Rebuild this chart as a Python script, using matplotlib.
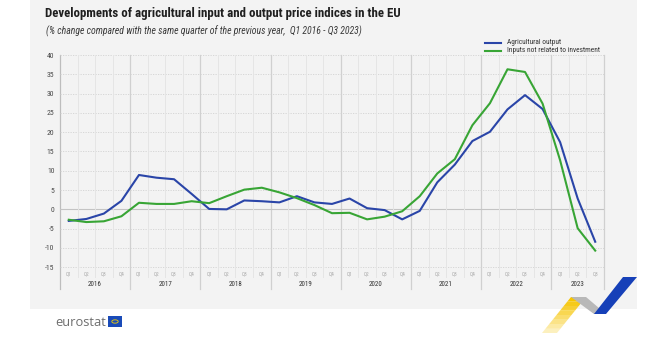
import matplotlib
matplotlib.use('Agg')
import matplotlib.pyplot as plt
from matplotlib.patches import Rectangle, Polygon, Circle
from matplotlib.lines import Line2D
from matplotlib import transforms
from matplotlib import font_manager as fm

# ---------------- data ----------------
years = ['2016', '2017', '2018', '2019', '2020', '2021', '2022', '2023']
quarters = ['Q1', 'Q2', 'Q3', 'Q4']
categories = [f'{q} {y}' for y in years for q in quarters][:31]   # Q1 2016 .. Q3 2023

agricultural_output = [
    -3.0, -2.5, -1.1, 2.2,      # 2016
    8.9, 8.2, 7.8, 4.0,         # 2017
    0.1, 0.0, 2.3, 2.1,         # 2018
    1.8, 3.4, 1.8, 1.4,         # 2019
    2.8, 0.3, -0.2, -2.6,       # 2020
    -0.4, 7.0, 11.6, 17.7,      # 2021
    20.1, 25.9, 29.6, 26.0,     # 2022
    17.4, 2.8, -8.4,            # 2023
]
inputs_not_investment = [
    -2.7, -3.3, -3.1, -1.8,     # 2016
    1.7, 1.4, 1.4, 2.1,         # 2017
    1.6, 3.4, 5.1, 5.6,         # 2018
    4.4, 2.9, 1.1, -1.0,        # 2019
    -0.9, -2.6, -1.9, -0.5,     # 2020
    3.4, 9.3, 13.0, 21.8,       # 2021
    27.5, 36.3, 35.6, 27.4,     # 2022
    12.7, -4.9, -10.7,          # 2023
]
y_ticks = [-15, -10, -5, 0, 5, 10, 15, 20, 25, 30, 35, 40]

title = 'Developments of agricultural input and output price indices in the EU'
subtitle = '(% change compared with the same quarter of the previous year,  Q1 2016 - Q3 2023)'
legend_labels = ['Agricultural output', 'Inputs not related to investment']

# ---------------- style ----------------
BLUE = '#2a45a8'
GREEN = '#38a535'
W, H = 650, 339
available = {f.name for f in fm.fontManager.ttflist}
NARROW = 'DejaVu Sans'
for cand in ['Roboto Condensed', 'Open Sans Condensed', 'Liberation Sans Narrow',
             'Noto Sans Condensed', 'DejaVu Sans Condensed']:
    if cand in available:
        NARROW = cand
        break
plt.rcParams['font.family'] = [NARROW, 'DejaVu Sans']
plt.rcParams['font.stretch'] = 'condensed'

fig = plt.figure(figsize=(W / 100, H / 100), dpi=100)
fig.patch.set_facecolor('white')
renderer = fig.canvas.get_renderer()


def fx(px):
    return px / W


def fy(py):
    return 1 - py / H


def fit_width(txt, target_px):
    w = txt.get_window_extent(renderer).width
    txt.set_fontsize(txt.get_fontsize() * target_px / w)


# gray panel (behind everything)
fig.patches.append(Rectangle((fx(30), fy(309)), fx(637) - fx(30), fy(0) - fy(309),
                             transform=fig.transFigure, facecolor='#f3f3f3',
                             edgecolor='none', zorder=-10))

TOP_PX, BOT_PX = 55.0, 278.0
ax = fig.add_axes([fx(60), fy(BOT_PX), fx(604) - fx(60), fy(TOP_PX) - fy(BOT_PX)])
ax.set_zorder(2)
ax.set_facecolor('none')
ymin = 0 - (BOT_PX - 209.3) / 3.86
ax.set_xlim(-0.5, len(categories) - 0.5)
ax.set_ylim(ymin, 40)
for s in ax.spines.values():
    s.set_visible(False)
ax.set_xticks([])
ax.set_yticks(y_ticks)
ax.set_yticklabels([str(v) for v in y_ticks], fontsize=5.6, color='#4a4a4a')
ax.tick_params(axis='y', length=0, pad=4)

# horizontal grid
for v in y_ticks:
    if v == 0:
        ax.axhline(v, color='#c4c4c4', lw=0.8, zorder=1)
    else:
        ax.axhline(v, color='#d2d2d2', lw=0.6, ls=(0, (1.5, 1.5)), zorder=1)

# vertical grid (quarter boundaries)
n = len(categories)
for i in range(1, n):
    b = i - 0.5
    if i % 4 != 0:
        ax.axvline(b, color='#e5e5e5', lw=0.7, zorder=1)

blend = transforms.blended_transform_factory(ax.transData, fig.transFigure)
for b in [-0.5] + [i - 0.5 for i in range(4, n, 4)] + [n - 0.5]:
    col = '#bdbdbd' if b == -0.5 else '#d0d0d0'
    fig.add_artist(Line2D([b, b], [fy(TOP_PX), fy(289)], transform=blend,
                          color=col, lw=0.9, zorder=1))

# quarter labels
for i, c in enumerate(categories):
    q = c.split()[0]
    ax.text(i, 0 - (274 - 209.3) / 3.86, q, ha='center', va='center',
            fontsize=3.8, color='#a8a8a8')

# year labels
for y in years:
    idx = [i for i, c in enumerate(categories) if c.endswith(y)]
    mid = (idx[0] + idx[-1]) / 2
    fig.text(mid, fy(285), y, transform=blend, ha='center', va='center',
             fontsize=5.0, color='#333333')

# series
x = list(range(n))
ax.plot(x, agricultural_output, color=BLUE, lw=1.5, zorder=3, solid_joinstyle='round')
ax.plot(x, inputs_not_investment, color=GREEN, lw=1.5, zorder=3, solid_joinstyle='round')

# title / subtitle
t = fig.text(fx(45), fy(14), title, fontsize=10.5, fontweight='bold',
             color='#1f1f1f', va='center', ha='left')
fit_width(t, 356)
st = fig.text(fx(46), fy(31), subtitle, fontsize=6.4, style='italic',
              color='#3a3a3a', va='center', ha='left')
fit_width(st, 316)

# legend (manual)
leg_texts = []
for yy, col, lab in [(43, BLUE, legend_labels[0]), (51, GREEN, legend_labels[1])]:
    fig.add_artist(Line2D([fx(485), fx(501)], [fy(yy), fy(yy)], transform=fig.transFigure,
                          color=col, lw=1.5))
    leg_texts.append(fig.text(fx(507), fy(yy), lab, fontsize=5.3, color='#333333',
                              va='center', ha='left'))
fit_width(leg_texts[1], 93)
leg_texts[0].set_fontsize(leg_texts[1].get_fontsize())

# eurostat logo
lg = fig.text(fx(55), fy(322), 'eurostat', fontsize=9, color='#6e6e6e', va='center',
              ha='left', family=['Open Sans', 'DejaVu Sans'], stretch='normal')
fit_width(lg, 51)
fig.patches.append(Rectangle((fx(108), fy(327)), fx(122) - fx(108), fy(316) - fy(327),
                             transform=fig.transFigure, facecolor='#1a4bb8',
                             edgecolor='none'))
fig.patches.append(Circle((fx(115), fy(321.5)), 3.2 / W, transform=fig.transFigure,
                          facecolor='none', edgecolor='#f5d000', lw=0.6))


# decorative ribbon
def poly(pts, color, alpha=1.0):
    fig.patches.append(Polygon([(fx(a), fy(b)) for a, b in pts], closed=True,
                               transform=fig.transFigure, facecolor=color,
                               edgecolor='none', alpha=alpha))


steps = 8
for s in range(steps):
    y0 = 297 + 36 * s / steps
    y1 = 297 + 36 * (s + 1) / steps
    dx0 = -29 * (y0 - 297) / 36
    dx1 = -29 * (y1 - 297) / 36
    poly([(571 + dx0, y0), (586 + dx0, y0), (586 + dx1, y1), (571 + dx1, y1)],
         '#f7c500', alpha=1 - 0.85 * s / steps)
poly([(571, 297), (586, 297), (606, 314), (594, 314)], '#b8b8b8')
poly([(594, 314), (606, 314), (637, 277), (623, 277)], '#1640b8')

fig.savefig('out.png', dpi=100, facecolor='white')
